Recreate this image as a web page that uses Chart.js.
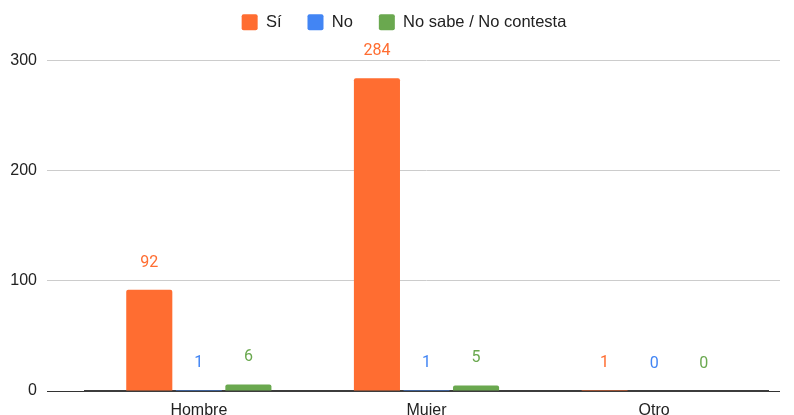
<!DOCTYPE html>
<html>
<head>
<meta charset="utf-8">
<script src="https://cdn.jsdelivr.net/npm/chart.js@4/dist/chart.umd.min.js"></script>
<style>
  html, body { margin: 0; padding: 0; background: #fff; }
  #wrap { width: 794px; height: 415px; }
</style>
</head>
<body>
<div id="wrap"><canvas id="chart"></canvas></div>
<script>
// --- Data ---
const categories = ['Hombre', 'Mujer', 'Otro'];
const seriesNames = ['Sí', 'No', 'No sabe / No contesta'];
const siValues = [92, 284, 1];
const noValues = [1, 1, 0];
const nsncValues = [6, 5, 0];
const yTicks = [0, 100, 200, 300];

const colors = ['#ff6d31', '#4285f4', '#6aa84f'];
const AXIS_FONT = '"Liberation Sans", Arial, sans-serif';
const LABEL_FONT = 'Roboto, "Liberation Sans", Arial, sans-serif';

// Value labels above each bar, in the series colour
const barLabels = {
    id: 'barLabels',
    afterDatasetsDraw(chart) {
        const ctx = chart.ctx;
        ctx.save();
        ctx.font = '16px ' + LABEL_FONT;
        ctx.textAlign = 'center';
        ctx.textBaseline = 'middle';
        chart.data.datasets.forEach((ds, i) => {
            const meta = chart.getDatasetMeta(i);
            meta.data.forEach((bar, j) => {
                ctx.fillStyle = ds.backgroundColor;
                ctx.fillText(String(ds.data[j]), bar.x, bar.y - 27);
            });
        });
        ctx.restore();
    }
};

// Lift the legend closer to the top edge and nudge it right a bit
const legendShift = {
    id: 'legendShift',
    afterLayout(chart) {
        const lg = chart.legend;
        if (!lg) return;
        const h = lg.height;
        lg.top = -12;
        lg.bottom = lg.top + h;
        lg.left += 7;
        lg.right += 7;
    }
};

const makeDataset = (label, data, color) => ({
    label: label,
    data: data,
    backgroundColor: color,
    borderColor: color,
    borderRadius: 2,
    borderSkipped: 'bottom',
    categoryPercentage: 0.653,
    barPercentage: 0.93,
    yAxisID: 'y'
});

new Chart(document.getElementById('chart'), {
    type: 'bar',
    data: {
        labels: categories,
        datasets: [
            makeDataset(seriesNames[0], siValues, colors[0]),
            makeDataset(seriesNames[1], noValues, colors[1]),
            makeDataset(seriesNames[2], nsncValues, colors[2])
        ]
    },
    options: {
        responsive: true,
        maintainAspectRatio: false,
        animation: false,
        layout: { padding: { top: 8, left: 0, right: 0, bottom: 0 } },
        plugins: {
            legend: {
                position: 'top',
                labels: {
                    color: '#222',
                    font: { family: AXIS_FONT, size: 16.5 },
                    boxWidth: 16,
                    boxHeight: 16,
                    useBorderRadius: true,
                    borderRadius: 2,
                    padding: 26
                }
            },
            tooltip: { enabled: false }
        },
        scales: {
            x: {
                z: 1,
                grid: { display: false, drawTicks: false },
                border: { display: true, color: '#3c3c3c', width: 2 },
                ticks: { color: '#222', font: { family: AXIS_FONT, size: 16 }, padding: 10 },
                afterFit: (scale) => { scale.height = 24; }
            },
            y: {
                min: 0,
                max: 300,
                afterBuildTicks: (scale) => { scale.ticks = yTicks.map(v => ({ value: v })); },
                border: { display: false },
                grid: {
                    color: (c) => c.tick && c.tick.value === 0 ? '#333' : '#ccc',
                    lineWidth: 1,
                    tickLength: 38
                },
                ticks: { color: '#222', font: { family: AXIS_FONT, size: 16 }, padding: 10 },
                afterFit: (scale) => { scale.width = 85; }
            },
            y2: {
                position: 'right',
                min: 0,
                max: 300,
                afterBuildTicks: (scale) => { scale.ticks = yTicks.map(v => ({ value: v })); },
                border: { display: false },
                grid: {
                    drawOnChartArea: false,
                    color: (c) => c.tick && c.tick.value === 0 ? '#333' : '#ccc',
                    tickLength: 12
                },
                ticks: { display: false },
                afterFit: (scale) => { scale.width = 26; }
            }
        }
    },
    plugins: [barLabels, legendShift]
});
</script>
</body>
</html>
